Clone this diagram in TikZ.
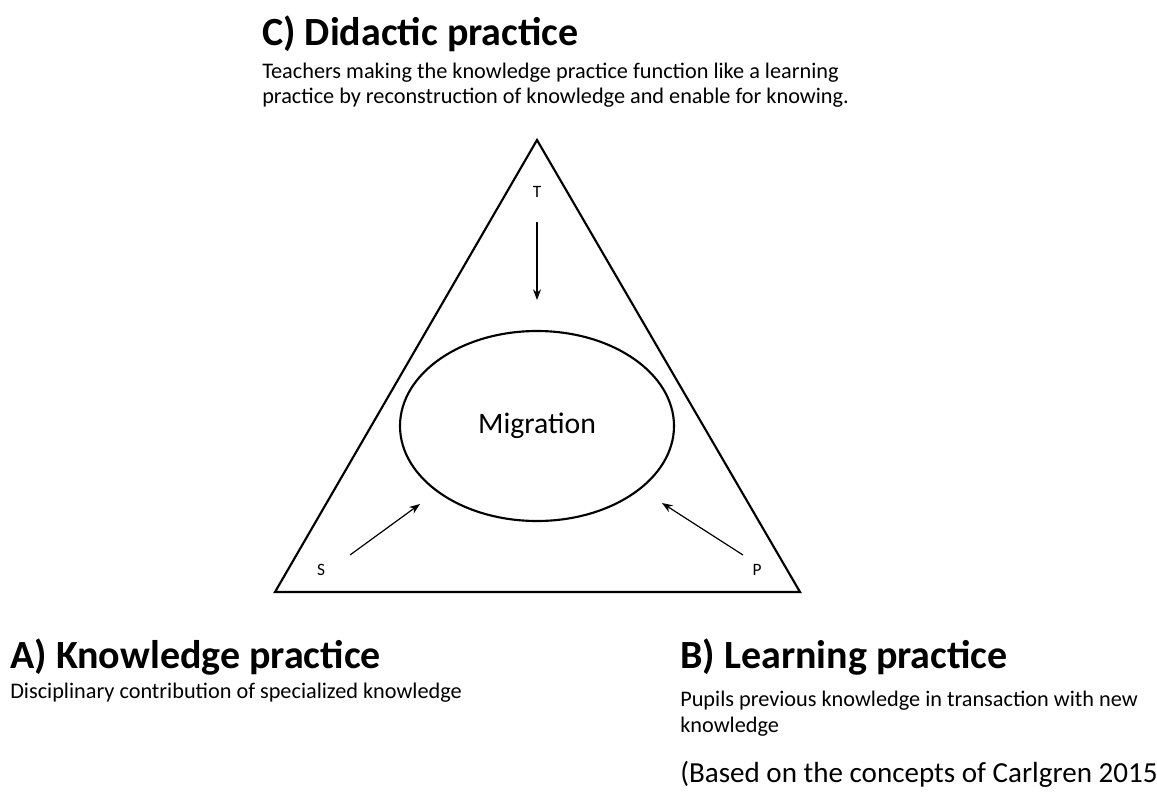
\documentclass[tikz,border=0pt]{standalone}
\usepackage{fontspec}
\setmainfont{Carlito}
\usepackage{tikz}
\usetikzlibrary{arrows.meta, positioning, shapes.geometric}

\tikzset{
    heading/.style={anchor=base west, inner sep=0pt, font=\fontsize{30}{34}\selectfont\bfseries},
    body/.style={anchor=base west, inner sep=0pt, font=\fontsize{16.7}{20}\selectfont},
    corner/.style={inner sep=0pt, font=\fontsize{13}{15}\selectfont},
    flow/.style={-{Stealth[length=8pt, width=6pt]}, line width=0.9pt}
}

\begin{document}
\begin{tikzpicture}[x=0.75pt, y=-0.75pt]
                        \useasboundingbox (0, 0) rectangle (1157, 804);

                        \coordinate (top) at (537, 140);
                        \coordinate (left) at (275, 592);
                        \coordinate (right) at (800, 592);
                        \draw[line width=1.6pt, line join=miter] (top) -- (left) -- (right) -- cycle;

                        \node[ellipse, draw, line width=1.6pt, minimum width=205.5pt, minimum height=142.5pt, inner sep=0pt,
                              font=\fontsize{22.3}{25}\selectfont] (mig) at (537, 426) {Migration};

                        \node[corner] (T) at (537, 192) {T};
                        \node[corner] (S) at (321, 570) {S};
                        \node[corner] (P) at (757, 570) {P};

                        \coordinate (t0) at (537, 222);
                        \coordinate (t1) at (537, 300);
                        \coordinate (s0) at (350, 555);
                        \coordinate (s1) at (420, 504);
                        \coordinate (p0) at (743, 555);
                        \coordinate (p1) at (662, 503);

                        \draw
                        (t0) edge[flow] (t1)
                        (s0) edge[flow] (s1)
                        (p0) edge[flow] (p1);

                        \node[heading] (didH) at (262, 45) {C) Didactic practice};
                        \node[body] (didB1) at (262, 78) {Teachers making the knowledge practice function like a learning};
                        \node[body] (didB2) at (262, 103) {practice by reconstruction of knowledge and enable for knowing.};

                        \node[heading] (knoH) at (10, 668) {A) Knowledge practice};
                        \node[body] (knoB) at (10, 698) {Disciplinary contribution of specialized knowledge};

                        \node[heading] (leaH) at (680, 668) {B) Learning practice};
                        \node[body] (leaB1) at (680, 706) {Pupils previous knowledge in transaction with new};
                        \node[body] (leaB2) at (680, 732) {knowledge};

                        \node[anchor=base west, inner sep=0pt, font=\fontsize{21.8}{24}\selectfont] (src) at (680, 782) {(Based on the concepts of Carlgren 2015};
                    \end{tikzpicture}
\end{document}
